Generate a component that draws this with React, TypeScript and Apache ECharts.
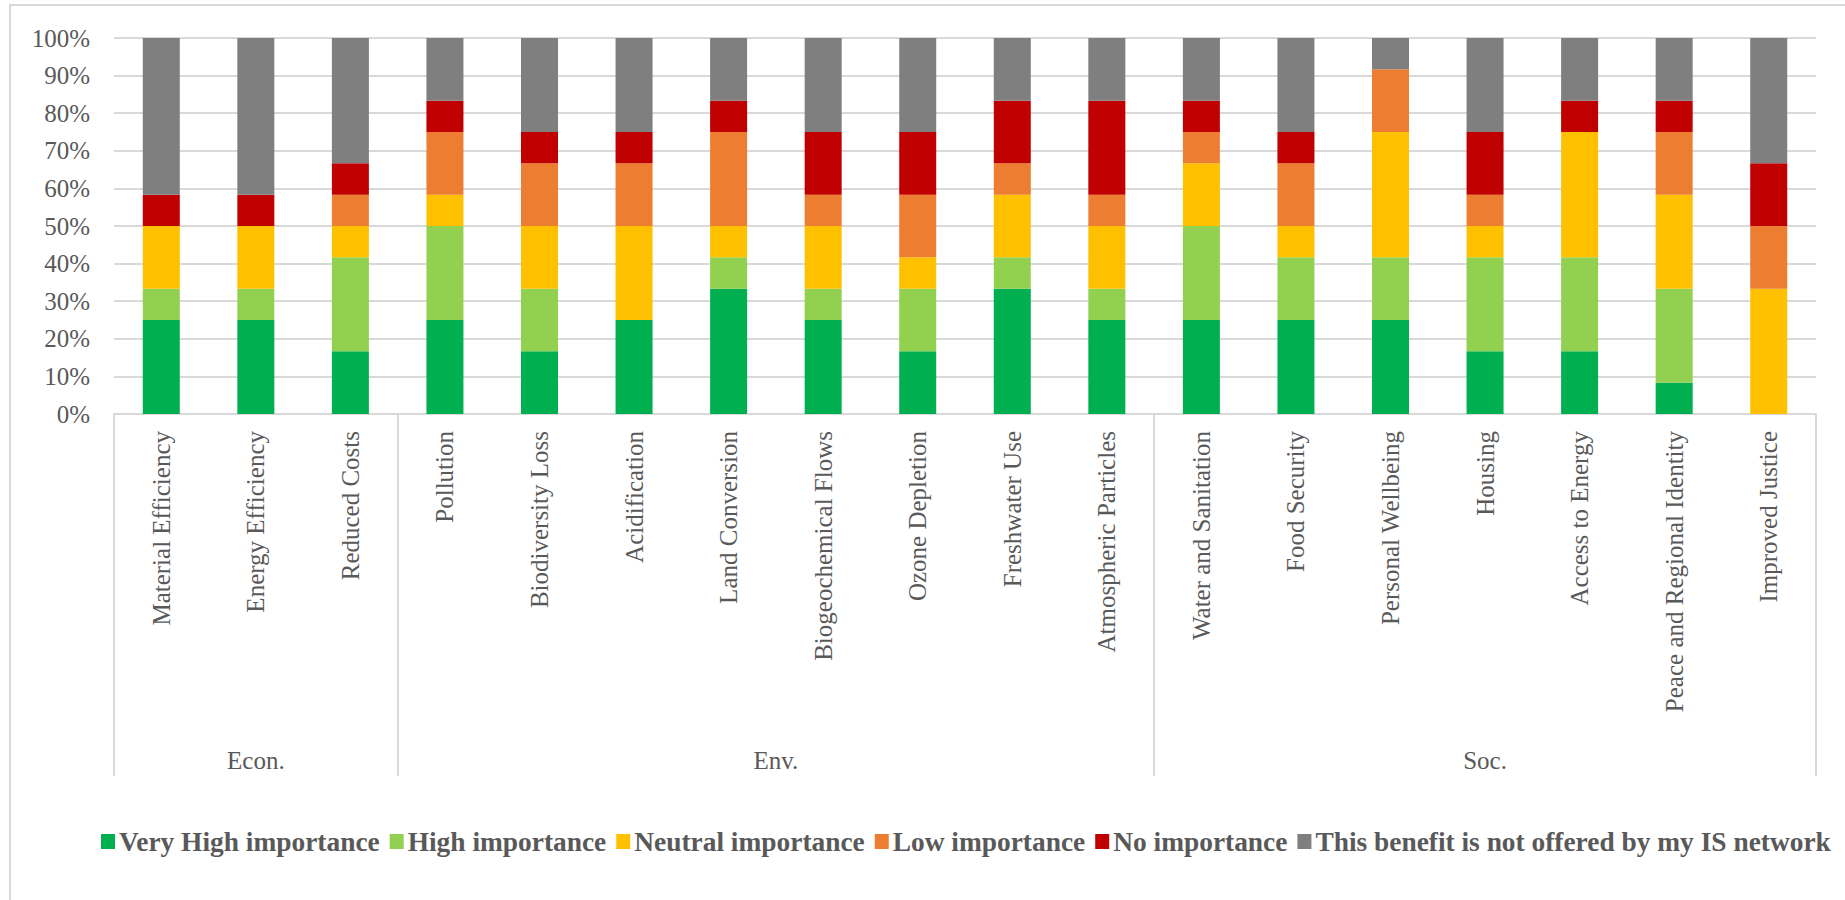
import React, { useEffect, useRef } from "react";
import * as echarts from "echarts";

// Benefits, grouped by pillar (Econ. / Env. / Soc.)
const categories = [
  "Material Efficiency",
  "Energy Efficiency",
  "Reduced Costs",
  "Pollution",
  "Biodiversity Loss",
  "Acidification",
  "Land Conversion",
  "Biogeochemical Flows",
  "Ozone Depletion",
  "Freshwater Use",
  "Atmospheric Particles",
  "Water and Sanitation",
  "Food Security",
  "Personal Wellbeing",
  "Housing",
  "Access to Energy",
  "Peace and Regional Identity",
  "Improved Justice",
];

const groupNames = ["Econ.", "Env.", "Soc."];
const groupSizes = [3, 8, 7];

// Share of answers (%) per importance level
const veryHigh = [25, 25, 16.67, 25, 16.67, 25, 33.33, 25, 16.67, 33.33, 25, 25, 25, 25, 16.67, 16.67, 8.33, 0];
const high = [8.33, 8.33, 25, 25, 16.67, 0, 8.33, 8.33, 16.67, 8.33, 8.33, 25, 16.67, 16.67, 25, 25, 25, 0];
const neutral = [16.67, 16.67, 8.33, 8.33, 16.67, 25, 8.33, 16.67, 8.33, 16.67, 16.67, 16.67, 8.33, 33.33, 8.33, 33.33, 25, 33.33];
const low = [0, 0, 8.33, 16.67, 16.67, 16.67, 25, 8.33, 16.67, 8.33, 8.33, 8.33, 16.67, 16.67, 8.33, 0, 16.67, 16.67];
const noImportance = [8.33, 8.33, 8.33, 8.33, 8.33, 8.33, 8.33, 16.67, 16.67, 16.67, 25, 8.33, 8.33, 0, 16.67, 8.33, 8.33, 16.67];
const notOffered = [41.67, 41.67, 33.33, 16.67, 25, 25, 16.67, 25, 25, 16.67, 16.67, 16.67, 25, 8.33, 25, 16.67, 16.67, 33.33];

const seriesNames = [
  "Very High importance",
  "High importance",
  "Neutral importance",
  "Low importance",
  "No importance",
  "This benefit is not offered by my IS network",
];
const seriesColors = ["#00B050", "#92D050", "#FFC000", "#ED7D31", "#C00000", "#7F7F7F"];
const seriesData = [veryHigh, high, neutral, low, noImportance, notOffered];

const yTicks = [0, 10, 20, 30, 40, 50, 60, 70, 80, 90, 100];

const FONT = "'Liberation Serif', 'DejaVu Serif', serif";
const TEXT = "#595959";
const RULE = "#D9D9D9";

export default function App() {
  const ref = useRef<HTMLDivElement>(null);

  useEffect(() => {
    if (!ref.current) return;
    const chart = echarts.init(ref.current, null, { renderer: "svg" });

    // Group boundaries and centres on a 0..N value scale shared with the category band
    const bounds: number[] = [0];
    const centres: number[] = [];
    groupSizes.forEach((s) => {
      const start = bounds[bounds.length - 1];
      centres.push(start + s / 2);
      bounds.push(start + s);
    });

    chart.setOption({
      animation: false,
      backgroundColor: "#ffffff",
      textStyle: { fontFamily: FONT },
      graphic: [
        {
          type: "rect",
          shape: { x: 10, y: 5, width: 1860, height: 1000 },
          style: { fill: "none", stroke: RULE, lineWidth: 2 },
          silent: true,
        },
      ],
      grid: { left: 114, right: 29, top: 38, bottom: 486, containLabel: false },
      legend: {
        data: seriesNames,
        left: 96,
        top: 823,
        icon: "rect",
        itemWidth: 14,
        itemHeight: 15,
        itemGap: 10,
        textStyle: { fontFamily: FONT, fontSize: 27.4, fontWeight: "bold", color: TEXT, padding: [0, 0, 0, -1] },
      },
      xAxis: [
        {
          type: "category",
          data: categories,
          boundaryGap: true,
          axisLine: { show: true, lineStyle: { color: RULE, width: 2 } },
          axisTick: { show: false },
          axisLabel: {
            rotate: 90,
            interval: 0,
            margin: 17,
            fontFamily: FONT,
            fontSize: 25,
            color: TEXT,
          },
          splitLine: { show: false },
        },
        {
          type: "value",
          min: 0,
          max: categories.length,
          position: "bottom",
          axisLine: { show: false },
          axisTick: {
            show: true,
            customValues: bounds,
            length: 362,
            lineStyle: { color: RULE, width: 2 },
          },
          axisLabel: {
            show: true,
            customValues: centres,
            margin: 334,
            fontFamily: FONT,
            fontSize: 25,
            color: TEXT,
            formatter: (v: number) => {
              const i = centres.findIndex((c) => Math.abs(c - v) < 1e-6);
              return i >= 0 ? groupNames[i] : "";
            },
          },
          splitLine: { show: false },
        },
      ],
      yAxis: {
        type: "value",
        min: 0,
        max: 100,
        interval: 10,
        axisLine: { show: false },
        axisTick: { show: false },
        axisLabel: {
          formatter: (v: number) => (yTicks.includes(v) ? `${v}%` : ""),
          margin: 24,
          fontFamily: FONT,
          fontSize: 25,
          color: TEXT,
        },
        splitLine: { show: true, lineStyle: { color: RULE, width: 2 } },
      },
      series: seriesNames.map((name, i) => ({
        name,
        type: "bar",
        stack: "share",
        xAxisIndex: 0,
        barWidth: 37,
        itemStyle: { color: seriesColors[i] },
        data: seriesData[i],
      })),
    });

    return () => chart.dispose();
  }, []);

  return (
    <div
      ref={ref}
      style={{ position: "fixed", left: 0, top: 0, width: 1845, height: 900, background: "#fff" }}
    />
  );
}
